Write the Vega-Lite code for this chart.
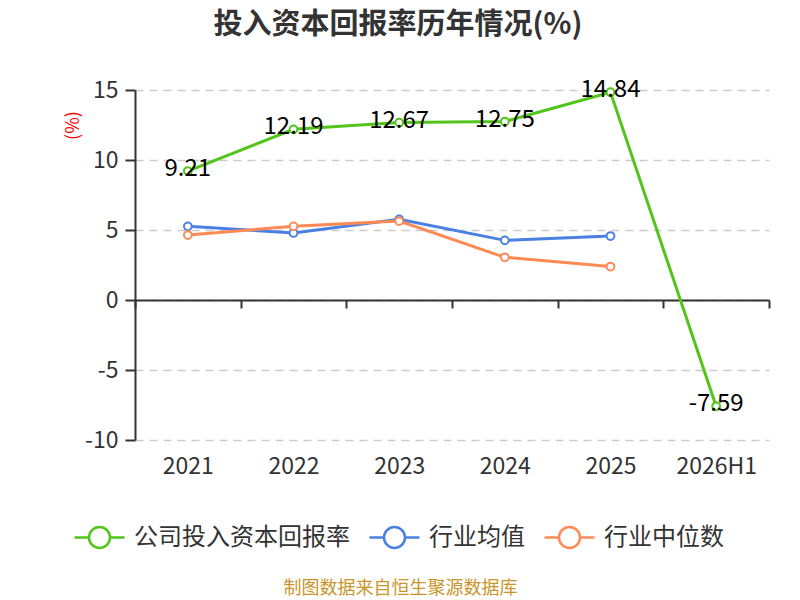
{
  "$schema": "https://vega.github.io/schema/vega-lite/v6.json",
  "width": 634,
  "height": 350,
  "autosize": {"type": "none"},
  "padding": {"left": 135, "top": 90, "right": 31, "bottom": 160},
  "background": "white",
  "title": {
    "text": "投入资本回报率历年情况(%)",
    "anchor": "middle",
    "dx": -54,
    "offset": 38,
    "fontSize": 29,
    "fontWeight": "bold",
    "color": "#333333",
    "font": "Noto Sans CJK SC"
  },
  "config": {
    "view": {"stroke": null},
    "font": "Noto Sans CJK SC",
    "locale": {
      "number": {"decimal": ".", "thousands": ",", "grouping": [3], "currency": ["", ""], "minus": "-"}
    },
    "axis": {"labelFont": "Noto Sans CJK SC", "titleFont": "Noto Sans CJK SC"},
    "legend": {"labelFont": "Noto Sans CJK SC"}
  },
  "data": {
    "values": [
      {"year": "2021", "series": "公司投入资本回报率", "value": 9.21},
      {"year": "2022", "series": "公司投入资本回报率", "value": 12.19},
      {"year": "2023", "series": "公司投入资本回报率", "value": 12.67},
      {"year": "2024", "series": "公司投入资本回报率", "value": 12.75},
      {"year": "2025", "series": "公司投入资本回报率", "value": 14.84},
      {"year": "2026H1", "series": "公司投入资本回报率", "value": -7.59},
      {"year": "2021", "series": "行业均值", "value": 5.26},
      {"year": "2022", "series": "行业均值", "value": 4.79},
      {"year": "2023", "series": "行业均值", "value": 5.76},
      {"year": "2024", "series": "行业均值", "value": 4.26},
      {"year": "2025", "series": "行业均值", "value": 4.57},
      {"year": "2021", "series": "行业中位数", "value": 4.64},
      {"year": "2022", "series": "行业中位数", "value": 5.26},
      {"year": "2023", "series": "行业中位数", "value": 5.64},
      {"year": "2024", "series": "行业中位数", "value": 3.05},
      {"year": "2025", "series": "行业中位数", "value": 2.39}
    ]
  },
  "encoding": {
    "x": {
      "field": "year",
      "type": "ordinal",
      "sort": null,
      "scale": {"paddingInner": 0, "paddingOuter": 0},
      "axis": {
        "offset": -140,
        "labelAngle": 0,
        "labelFontSize": 23,
        "labelColor": "#333333",
        "labelPadding": 147,
        "domainColor": "#333333",
        "domainWidth": 2,
        "tickColor": "#333333",
        "tickWidth": 2,
        "tickSize": 8,
        "tickBand": "extent",
        "grid": false,
        "title": "制图数据来自恒生聚源数据库",
        "titleColor": "#C9952B",
        "titleFontSize": 18,
        "titleFontWeight": "normal",
        "titleX": 265,
        "titleY": 288,
        "titleAlign": "center",
        "titleBaseline": "middle"
      }
    },
    "y": {
      "field": "value",
      "type": "quantitative",
      "scale": {"domain": [-10, 15], "nice": false, "zero": false},
      "axis": {
        "values": [-10, -5, 0, 5, 10, 15],
        "labelFontSize": 23,
        "labelColor": "#333333",
        "labelPadding": 7,
        "domainColor": "#333333",
        "domainWidth": 2,
        "tickColor": "#333333",
        "tickWidth": 2,
        "tickSize": 10,
        "gridColor": "#cccccc",
        "gridWidth": 1.5,
        "gridDash": [8, 6],
        "title": "(%)",
        "titleColor": "#FF0000",
        "titleFontSize": 18,
        "titleFontWeight": "normal",
        "titleAngle": -90,
        "titleX": -62,
        "titleY": 35,
        "titleAlign": "center",
        "titleBaseline": "middle"
      }
    }
  },
  "layer": [
    {
      "mark": {"type": "line", "strokeWidth": 3},
      "encoding": {
        "stroke": {
          "field": "series",
          "type": "nominal",
          "scale": {
            "domain": ["公司投入资本回报率", "行业均值", "行业中位数"],
            "range": ["#52C41A", "#4A80E3", "#FF8A55"]
          },
          "legend": {
            "title": null,
            "orient": "none",
            "direction": "horizontal",
            "legendX": -62,
            "legendY": 421,
            "symbolType": "M-1,0L-0.42,0M0.42,0L1,0M-0.42,0A0.42,0.42,0,1,1,0.42,0A0.42,0.42,0,1,1,-0.42,0",
            "symbolSize": 2500,
            "symbolStrokeWidth": 2.5,
            "symbolFillColor": "#ffffff",
            "labelFontSize": 24,
            "labelColor": "#333333",
            "labelOffset": 8,
            "labelLimit": 0,
            "columnPadding": 14
          }
        }
      }
    },
    {
      "mark": {"type": "point", "filled": true, "fill": "#ffffff", "size": 60, "strokeWidth": 2, "opacity": 1},
      "encoding": {
        "stroke": {"field": "series", "type": "nominal"}
      }
    },
    {
      "transform": [{"filter": "datum.series == '公司投入资本回报率'"}],
      "mark": {"type": "text", "fontSize": 24, "color": "#000000", "baseline": "middle", "dy": -2},
      "encoding": {
        "text": {"field": "value", "type": "quantitative", "format": ".2f"}
      }
    }
  ]
}
